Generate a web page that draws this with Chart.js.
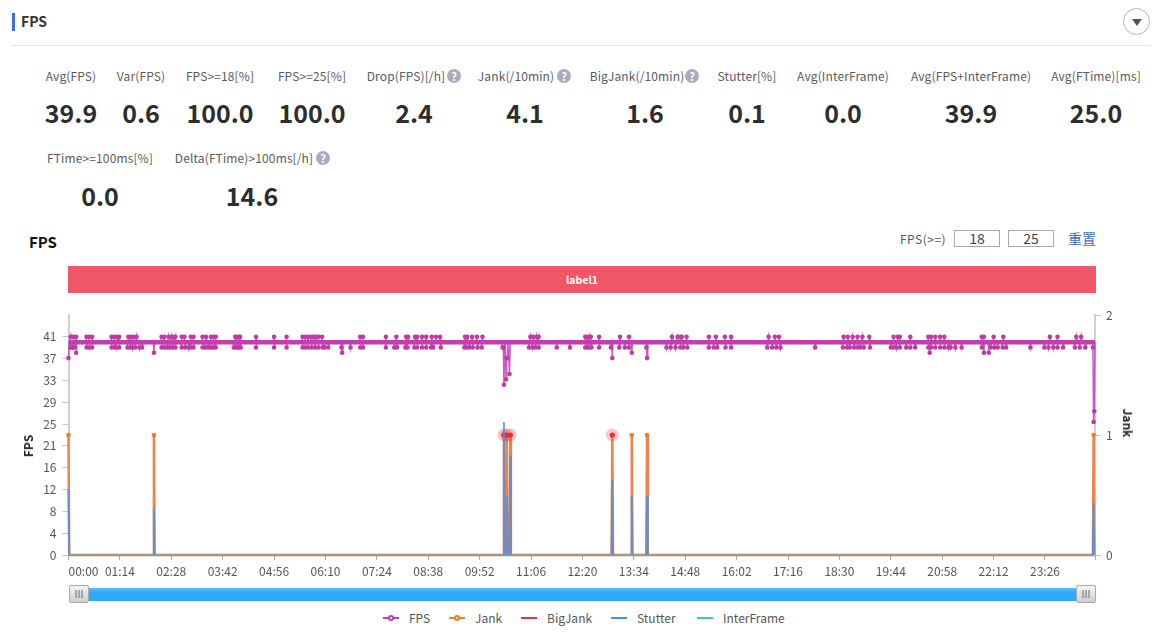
<!DOCTYPE html>
<html>
<head>
<meta charset="utf-8">
<title>FPS</title>
<script src="https://cdn.jsdelivr.net/npm/chart.js@4"></script>
<style>
  html, body { margin: 0; padding: 0; background: #fff; }
  body { width: 1164px; height: 632px; position: relative; overflow: hidden; font-family: "Noto Sans CJK SC", "Noto Sans", sans-serif; color: #555; }
  .abs { position: absolute; white-space: nowrap; line-height: 1; }
  .center { transform: translateX(-50%); }
  .bar { position: absolute; left: 12px; top: 13px; width: 3px; height: 18px; background: #3d6be0; }
  .rule { position: absolute; left: 12px; top: 45px; width: 1139px; height: 1px; background: #e4e4e4; }
  .toggle { position: absolute; left: 1123px; top: 8px; width: 27px; height: 27px; border: 1px solid #b5b5b5; border-radius: 50%; box-sizing: border-box; }
  .toggle:after { content: ""; position: absolute; left: 7.5px; top: 10px; border: 5px solid transparent; border-top: 7px solid #555; }
  .stat-label { font-size: 12px; color: #5b5b5b; letter-spacing: 0.12px; }
  .stat-value { font-size: 25px; font-weight: 700; color: #2d2d2d; }
  .help { position: absolute; width: 14px; height: 14px; border-radius: 50%; background: #a9adbd; color: #fff; font-size: 11px; font-weight: 700; line-height: 14px; text-align: center; }
  .input { position: absolute; top: 230px; width: 46px; height: 17px; border: 1px solid #aaa; box-sizing: border-box; font-size: 14px; line-height: 15px; text-align: center; color: #444; }
  .band { position: absolute; left: 68px; top: 266px; width: 1028px; height: 27px; background: #ef5767; color: #fff; font-size: 10.5px; font-weight: 700; line-height: 27px; text-align: center; }
  #chart-wrap { position: absolute; left: 0; top: 300px; width: 1164px; height: 280px; }
  .slider { position: absolute; left: 80px; top: 588px; width: 1006px; height: 13px; background: linear-gradient(#5cbcf5, #2eaaf8 35%, #2ea8f6); }
  .handle { position: absolute; top: 585px; width: 20px; height: 18px; border: 1px solid #aaa; border-radius: 2px; box-sizing: border-box; background: linear-gradient(#f4f4f4, #cfcfcf); color: #666; font-size: 10px; line-height: 15px; text-align: center; }
  .marker { position: absolute; top: 617px; width: 16px; height: 2px; }
  .marker i { position: absolute; left: 5px; top: -2px; width: 6px; height: 6px; box-sizing: border-box; border: 2px solid; border-radius: 50%; background: #fff; }
  .axis-title { font-size: 12px; font-weight: 700; color: #222; }
</style>
</head>
<body>
<div class="bar"></div>
<div class="abs" style="left:21px;top:14px;font-size:14px;font-weight:700;color:#333">FPS</div>
<div class="rule"></div>
<div class="toggle"></div>
<div id="stats"></div>
<div class="abs" style="left:29px;top:234px;font-size:15px;font-weight:700;color:#111">FPS</div>
<div class="abs" style="left:900px;top:233px;font-size:12px;color:#555;letter-spacing:0.5px">FPS(&gt;=)</div>
<div class="input" style="left:954px">18</div>
<div class="input" style="left:1008px">25</div>
<div class="abs" style="left:1068px;top:231px;font-size:14px;color:#3a6fc9">重置</div>
<div class="band">label1</div>
<div id="chart-wrap"><canvas id="fps-chart"></canvas></div>
<div class="abs axis-title" style="left:28px;top:446px;transform:translate(-50%,-50%) rotate(-90deg)">FPS</div>
<div class="abs axis-title" style="left:1128px;top:423px;transform:translate(-50%,-50%) rotate(90deg)">Jank</div>
<div class="slider"></div>
<div class="handle" style="left:69px">III</div>
<div class="handle" style="left:1076px">III</div>
<div id="legend"></div>

<script>
// Stat cards
const statLabels = ['Avg(FPS)', 'Var(FPS)', 'FPS>=18[%]', 'FPS>=25[%]', 'Drop(FPS)[/h]', 'Jank(/10min)', 'BigJank(/10min)', 'Stutter[%]', 'Avg(InterFrame)', 'Avg(FPS+InterFrame)', 'Avg(FTime)[ms]', 'FTime>=100ms[%]', 'Delta(FTime)>100ms[/h]'];
const statValues = ['39.9', '0.6', '100.0', '100.0', '2.4', '4.1', '1.6', '0.1', '0.0', '39.9', '25.0', '0.0', '14.6'];

// Axis ticks
const timeTickMinutes = [0, 74, 148, 222, 296, 370, 444, 518, 592, 666, 740, 814, 888, 962, 1036, 1110, 1184, 1258, 1332, 1406, 1478];
const timeTickLabels = ['00:00', '01:14', '02:28', '03:42', '04:56', '06:10', '07:24', '08:38', '09:52', '11:06', '12:20', '13:34', '14:48', '16:02', '17:16', '18:30', '19:44', '20:58', '22:12', '23:26', ''];
const fpsTickValues = [0, 4.1, 8.2, 12.3, 16.4, 20.5, 24.6, 28.7, 32.8, 36.9, 41];
const fpsTickLabels = ['0', '4', '8', '12', '16', '21', '25', '29', '33', '37', '41'];
const jankTickValues = [0, 1, 2];

// FPS sits at 40 for most of the run; these are the minutes where it leaves that line
const fpsBaseline = 40;
const fpsHighMinutes = [3, 7, 11, 26, 30, 34, 62, 66, 70, 73, 86, 90, 94, 98, 134, 138, 144, 148, 151, 154, 163, 167, 176, 180, 193, 198, 205, 209, 212, 240, 242, 245, 247, 270, 296, 314, 337, 341, 345, 349, 353, 356, 360, 365, 420, 424, 457, 472, 486, 489, 499, 502, 509, 515, 523, 529, 535, 571, 574, 581, 588, 596, 665, 669, 674, 677, 744, 747, 750, 752, 764, 794, 807, 869, 877, 881, 883, 890, 922, 932, 945, 954, 1008, 1017, 1023, 1116, 1122, 1129, 1136, 1143, 1153, 1188, 1194, 1197, 1212, 1238, 1242, 1248, 1255, 1261, 1315, 1318, 1332, 1346, 1413, 1424, 1451, 1458];
const fpsLowMinutes = [3, 6, 9, 26, 30, 34, 62, 66, 69, 73, 85, 89, 92, 96, 102, 106, 134, 138, 142, 146, 150, 154, 163, 168, 173, 176, 180, 193, 197, 201, 205, 209, 212, 238, 241, 244, 246, 248, 270, 296, 314, 337, 341, 345, 350, 355, 360, 366, 369, 374, 393, 406, 420, 424, 457, 469, 473, 485, 488, 498, 502, 509, 515, 522, 525, 536, 570, 573, 577, 582, 589, 595, 625, 663, 668, 672, 677, 703, 722, 744, 747, 750, 753, 764, 781, 793, 801, 807, 832, 861, 867, 874, 881, 885, 891, 922, 929, 934, 946, 954, 1006, 1013, 1019, 1025, 1075, 1115, 1121, 1125, 1131, 1136, 1140, 1145, 1154, 1184, 1188, 1192, 1197, 1206, 1212, 1219, 1238, 1242, 1248, 1255, 1261, 1267, 1270, 1277, 1286, 1315, 1328, 1333, 1338, 1345, 1350, 1385, 1405, 1411, 1418, 1424, 1432, 1449, 1456, 1464, 1475];
const fpsDipMinutes = [0, 11, 123, 394, 626, 627, 630, 631, 632, 635, 783, 811, 833, 1240, 1318, 1325, 1476, 1477];
const fpsDipValues = [37, 38, 38, 38, 39, 32, 33, 37, 37, 34, 37, 38, 37, 38, 38, 38, 25, 27];

// Jank and BigJank read on the right axis, Stutter on the left one
const jankMinutes = [0, 1, 122, 123, 124, 626, 627, 628, 630, 631, 632, 635, 636, 637, 782, 783, 784, 810, 811, 812, 832, 833, 834, 1475, 1476, 1477, 1478];
const jankValues = [1, 0, 0, 1, 0, 0, 1, 0, 0, 1, 0, 0, 1, 0, 0, 1, 0, 0, 1, 0, 0, 1, 0, 0, 1, 0, 0];
const bigJankMinutes = [627, 631, 636, 783];
const bigJankValues = [1, 1, 1, 1];
const stutterMinutes = [0, 1, 122, 123, 124, 626, 627, 628, 630, 631, 632, 635, 636, 637, 782, 783, 784, 810, 811, 812, 832, 833, 834, 1475, 1476, 1477, 1478];
const stutterValues = [12.3, 0, 0, 8.8, 0, 0, 25, 0, 0, 11, 0, 0, 18.7, 0, 0, 14.1, 0, 0, 11, 0, 0, 11, 0, 0, 9.8, 0, 0];
const interFrameMinutes = [0, 1478];
const interFrameValues = [0, 0];

const seriesNames = ['FPS', 'Jank', 'BigJank', 'Stutter', 'InterFrame'];
const seriesColors = ['#c23fae', '#f0792e', '#e0333c', '#4a90e2', '#2dcbd6'];
const legendLeft = [383, 449, 521, 611, 697];

// Stat cards layout
const statX = [71, 141, 220, 312, 414, 525, 645, 747, 843, 971, 1096, 100, 252];
const statLabelX = [71, 141, 220, 312, 406, 516, 637, 747, 843, 971, 1096, 100, 244];
const helpX = [0, 0, 0, 0, 447, 557, 685, 0, 0, 0, 0, 0, 316];
const statsEl = document.getElementById('stats');
statLabels.forEach((label, i) => {
  const row = i < 11 ? 0 : 1;
  const labelTop = row ? 152 : 70;
  const valueTop = row ? 183 : 100;
  statsEl.insertAdjacentHTML('beforeend',
    `<div class="abs center stat-label" style="left:${statLabelX[i]}px;top:${labelTop}px">${label.replace(/>/g, '&gt;')}</div>` +
    `<div class="abs center stat-value" style="left:${statX[i]}px;top:${valueTop}px">${statValues[i]}</div>` +
    (helpX[i] ? `<div class="help" style="left:${helpX[i]}px;top:${labelTop - 1}px">?</div>` : ''));
});

// Legend
const legendEl = document.getElementById('legend');
seriesNames.forEach((name, i) => {
  const dot = i < 2 ? `<i style="border-color:${seriesColors[i]}"></i>` : '';
  legendEl.insertAdjacentHTML('beforeend',
    `<div class="marker" style="left:${legendLeft[i]}px;background:${seriesColors[i]}">${dot}</div>` +
    `<div class="abs" style="left:${legendLeft[i] + 26}px;top:612px;font-size:12px;color:#555">${name}</div>`);
});

// Build the FPS line from the listed minutes, returning to the baseline between them
const fpsMarks = [
  ...fpsHighMinutes.map(m => ({ x: m, y: 41 })),
  ...fpsLowMinutes.map(m => ({ x: m, y: 39 })),
  ...fpsDipMinutes.map((m, i) => ({ x: m, y: fpsDipValues[i] }))
].sort((a, b) => a.x - b.x || b.y - a.y);

const fpsPoints = [];
fpsMarks.forEach((mark, i) => {
  const next = fpsMarks[i + 1];
  fpsPoints.push(mark);
  if (next && next.x > mark.x + 1) {
    fpsPoints.push({ x: mark.x + 1, y: fpsBaseline });
    if (next.x > mark.x + 2) fpsPoints.push({ x: next.x - 1, y: fpsBaseline });
  }
});
fpsPoints.push({ x: 1478, y: fpsBaseline });

const toPoints = (xs, ys) => xs.map((x, i) => ({ x, y: ys[i] }));

const ctx = document.getElementById('fps-chart').getContext('2d');
new Chart(ctx, {
  type: 'line',
  data: {
    datasets: [
      {
        label: 'FPS band',
        order: 7,
        data: [{ x: 0, y: fpsBaseline }, { x: 1478, y: fpsBaseline }],
        yAxisID: 'y',
        borderColor: seriesColors[0],
        borderWidth: 4.5,
        pointRadius: 0
      },
      {
        label: seriesNames[0],
        order: 6,
        data: fpsPoints,
        yAxisID: 'y',
        borderColor: 'rgba(194, 63, 174, 0.85)',
        borderWidth: 1.5,
        pointBackgroundColor: '#bd3aa8',
        pointBorderWidth: 0,
        pointRadius: c => (c.raw && c.raw.y !== fpsBaseline ? 2.3 : 0)
      },
      {
        label: seriesNames[1],
        order: 5,
        data: toPoints(jankMinutes, jankValues),
        yAxisID: 'y2',
        borderColor: '#ef8248',
        borderWidth: 2.5,
        pointBackgroundColor: seriesColors[1],
        pointBorderWidth: 0,
        pointRadius: c => (c.raw && c.raw.y > 0 ? 2.3 : 0)
      },
      {
        label: 'BigJank halo',
        order: 4,
        data: toPoints(bigJankMinutes, bigJankValues),
        yAxisID: 'y2',
        showLine: false,
        pointBackgroundColor: 'rgba(235, 70, 70, 0.3)',
        pointBorderWidth: 0,
        pointRadius: 6.5
      },
      {
        label: seriesNames[2],
        order: 3,
        data: toPoints(bigJankMinutes, bigJankValues),
        yAxisID: 'y2',
        showLine: false,
        pointBackgroundColor: seriesColors[2],
        pointBorderWidth: 0,
        pointRadius: 2.6
      },
      {
        label: seriesNames[3],
        order: 2,
        data: toPoints(stutterMinutes, stutterValues),
        yAxisID: 'y',
        borderColor: 'rgba(74, 144, 226, 0.8)',
        borderWidth: 2,
        pointRadius: 0,
        segment: {
          borderColor: c => (c.p0.parsed.y === 0 && c.p1.parsed.y === 0 ? 'rgba(74, 144, 226, 0.15)' : undefined)
        }
      },
      {
        label: seriesNames[4],
        order: 1,
        data: toPoints(interFrameMinutes, interFrameValues),
        yAxisID: 'y',
        borderColor: 'rgba(45, 203, 214, 0.3)',
        borderWidth: 2.5,
        pointRadius: 0
      }
    ]
  },
  options: {
    responsive: true,
    maintainAspectRatio: false,
    animation: false,
    layout: { padding: { top: 15 } },
    elements: { line: { tension: 0 } },
    datasets: { line: { clip: false } },
    plugins: { legend: { display: false }, tooltip: { enabled: false } },
    scales: {
      x: {
        type: 'linear',
        min: 0,
        max: 1478,
        afterFit: scale => { scale.height = 25; },
        afterBuildTicks: scale => { scale.ticks = timeTickMinutes.map(value => ({ value })); },
        border: { color: '#b8bcc4', width: 1 },
        grid: { drawOnChartArea: false, tickLength: 5, tickColor: '#a8a8a8' },
        ticks: {
          autoSkip: false,
          maxRotation: 0,
          align: 'inner',
          padding: 4,
          color: '#555',
          font: { family: '"Noto Sans CJK SC", "Noto Sans", sans-serif', size: 12 },
          callback: (value, i) => timeTickLabels[i]
        }
      },
      y: {
        position: 'left',
        min: 0,
        max: 45.1,
        afterFit: scale => { scale.width = 68.5; },
        afterBuildTicks: scale => { scale.ticks = fpsTickValues.map(value => ({ value })); },
        border: { color: '#d0d0d4', width: 2 },
        grid: { drawOnChartArea: false, tickLength: 6, tickColor: '#c4c4c8' },
        ticks: {
          autoSkip: false,
          padding: 6,
          color: '#555',
          font: { family: '"Noto Sans CJK SC", "Noto Sans", sans-serif', size: 12 },
          callback: (value, i) => fpsTickLabels[i]
        }
      },
      y2: {
        position: 'right',
        min: 0,
        max: 2,
        afterFit: scale => { scale.width = 69; },
        afterBuildTicks: scale => { scale.ticks = jankTickValues.map(value => ({ value })); },
        border: { color: '#d0d0d4', width: 2 },
        grid: { drawOnChartArea: false, tickLength: 6, tickColor: '#c4c4c8' },
        ticks: {
          padding: 5,
          color: '#555',
          font: { family: '"Noto Sans CJK SC", "Noto Sans", sans-serif', size: 12 }
        }
      }
    }
  }
});
</script>
</body>
</html>
